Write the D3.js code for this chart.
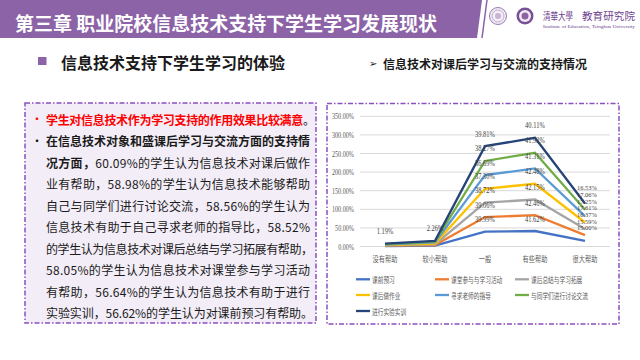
<!DOCTYPE html>
<html><head><meta charset="utf-8">
<script src="https://cdn.jsdelivr.net/npm/d3@7"></script>
<style>html,body{margin:0;padding:0;background:#fff;}svg{display:block;}</style>
</head><body>
<svg id="c" width="640" height="360"></svg>
<script>
// ---- data ----
const categories = ["没有帮助","较小帮助","一般","有些帮助","很大帮助"];
const seriesNames = ["课前预习","课堂参与与学习活动","课后总结与学习拓展","课后做作业","寻求老师的指导","与同学们进行讨论交流","进行实验实训"];
const v课前预习 = [1.20, 2.19, 39.99, 41.62, 15.00];
const v课堂参与 = [1.00, 1.89, 39.06, 42.46, 15.59];
const v课后总结 = [0.90, 1.86, 38.72, 42.15, 16.37];
const v课后做作业 = [0.80, 1.81, 37.30, 42.48, 17.61];
const v寻求老师 = [1.50, 3.25, 36.69, 41.31, 17.25];
const v讨论交流 = [0.90, 1.85, 38.27, 41.92, 17.06];
const v实验实训 = [1.19, 2.26, 39.81, 40.11, 16.53];
const seriesValues = [v课前预习, v课堂参与, v课后总结, v课后做作业, v寻求老师, v讨论交流, v实验实训];
const seriesColors = ["#4472C4","#ED7D31","#A5A5A5","#FFC000","#5B9BD5","#70AD47","#264478"];
const yTicks = [0,50,100,150,200,250,300,350];
const titleText = "第三章  职业院校信息技术支持下学生学习发展现状";
const sectionText = "信息技术支持下学生学习的体验";
const chartHeading = "信息技术对课后学习与交流的支持情况";
const bodyLines = [
  [{t:"学生对信息技术作为学习支持的作用效果比较满意",b:true,red:true},{t:"。"}],
  [{t:"在信息技术对象和盛课后学习与交流方面的支持情",b:true}],
  [{t:"况方面，",b:true},{t:"60.09%的学生认为信息技术对课后做作"}],
  [{t:"业有帮助，58.98%的学生认为信息技术能够帮助"}],
  [{t:"自己与同学们进行讨论交流，58.56%的学生认为"}],
  [{t:"信息技术有助于自己寻求老师的指导比，58.52%"}],
  [{t:"的学生认为信息技术对课后总结与学习拓展有帮助，"}],
  [{t:"58.05%的学生认为信息技术对课堂参与学习活动"}],
  [{t:"有帮助，56.64%的学生认为信息技术有助于进行"}],
  [{t:"实验实训，56.62%的学生认为对课前预习有帮助。"}]
];

const svg = d3.select("#c");
const purple = "#8c63a6";
const cjk = "'Noto Sans CJK SC', sans-serif";
const numFont = "'Liberation Serif', serif";

// ---- header ----
svg.append("polygon").attr("points","0,0 482,0 477,38 0,38").attr("fill",purple);
svg.append("line").attr("x1",487).attr("y1",0).attr("x2",482).attr("y2",38).attr("stroke",purple).attr("stroke-width",1.5);
svg.append("text").attr("x",15).attr("y",22.5).attr("dominant-baseline","central")
  .attr("font-family",cjk).attr("font-weight","bold").attr("font-size",19).attr("fill","#fff")
  .attr("textLength",422).attr("lengthAdjust","spacingAndGlyphs").text(titleText);
// logos
const lg = svg.append("g");
lg.append("circle").attr("cx",498).attr("cy",16).attr("r",8.5).attr("fill","#f4eef7").attr("stroke","#9a7ab0").attr("stroke-width",1);
lg.append("circle").attr("cx",498).attr("cy",16).attr("r",6).attr("fill","none").attr("stroke","#b59ac6").attr("stroke-width",0.8);
lg.append("circle").attr("cx",498).attr("cy",16).attr("r",3).attr("fill","#c9b4d6");
lg.append("circle").attr("cx",525).attr("cy",16).attr("r",8.5).attr("fill","#7a4f96");
lg.append("circle").attr("cx",525).attr("cy",16).attr("r",6).attr("fill","#f1eaf5");
lg.append("circle").attr("cx",525).attr("cy",16).attr("r",3.5).attr("fill","#8c63a6");
lg.append("text").attr("x",543).attr("y",15).attr("dominant-baseline","central")
  .attr("font-family","'Noto Sans CJK TC', sans-serif").attr("font-size",10).attr("fill","#6f3f8f")
  .attr("textLength",30).attr("lengthAdjust","spacingAndGlyphs").text("清華大學");
lg.append("text").attr("x",582).attr("y",15).attr("dominant-baseline","central")
  .attr("font-family",cjk).attr("font-size",10).attr("fill","#6f3f8f")
  .attr("textLength",53).attr("lengthAdjust","spacingAndGlyphs").text("教育研究院");
lg.append("text").attr("x",543).attr("y",26).attr("dominant-baseline","central")
  .attr("font-family",numFont).attr("font-size",4).attr("fill","#6f3f8f")
  .attr("textLength",92).attr("lengthAdjust","spacingAndGlyphs").text("Institute of Education, Tsinghua University");

// ---- section heading ----
svg.append("rect").attr("x",38).attr("y",57).attr("width",8.5).attr("height",8).attr("fill",purple);
svg.append("text").attr("x",61).attr("y",62).attr("dominant-baseline","central")
  .attr("font-family",cjk).attr("font-weight","bold").attr("font-size",16).attr("fill","#1a1a1a")
  .attr("textLength",224).attr("lengthAdjust","spacingAndGlyphs").text(sectionText);

// ---- left text box ----
const dash = "5,2,1.5,2";
svg.append("rect").attr("x",25).attr("y",103).attr("width",291).attr("height",220)
  .attr("fill","#f2edf7").attr("stroke","#8a4fc0").attr("stroke-width",1.5).attr("stroke-dasharray",dash);
bodyLines.forEach((line,i)=>{
  const y = 118.5 + i*21.55;
  if(i<2){
    svg.append("text").attr("x",31).attr("y",y).attr("dominant-baseline","central")
      .attr("font-family",cjk).attr("font-size",12).attr("fill", i===0?"#ff0000":"#111").text("•");
  }
  const t = svg.append("text").attr("x",46).attr("y",y).attr("dominant-baseline","central")
    .attr("font-family",cjk).attr("font-size",12).attr("fill","#1a1a1a");
  line.forEach(s=>{
    t.append("tspan").attr("font-weight",s.b?"bold":"normal").attr("fill",s.red?"#ff0000":"#1a1a1a").text(s.t);
  });
  const len = (i===0)?269:(i===6||i===9?267:264);
  t.attr("textLength",len).attr("lengthAdjust","spacing");
});

// ---- chart box ----
svg.append("text").attr("x",369).attr("y",63.3).attr("dominant-baseline","central")
  .attr("font-family","'DejaVu Sans', sans-serif").attr("font-size",10).attr("fill","#1a1a1a").text("➢");
svg.append("text").attr("x",383).attr("y",63.3).attr("dominant-baseline","central")
  .attr("font-family",cjk).attr("font-weight","bold").attr("font-size",12).attr("fill","#1a1a1a")
  .attr("textLength",204).attr("lengthAdjust","spacingAndGlyphs").text(chartHeading);
svg.append("rect").attr("x",327).attr("y",103.5).attr("width",292).attr("height",220.5)
  .attr("fill","#fff").attr("stroke","#8a4fc0").attr("stroke-width",1.5).attr("stroke-dasharray",dash);

const x = d3.scalePoint().domain(categories).range([360,610]).padding(0.5);
const y = d3.scaleLinear().domain([0,350]).range([246.5,116.3]);

const rows = categories.map((c,ci)=>{const r={cat:c}; seriesNames.forEach((s,si)=>r[s]=seriesValues[si][ci]); return r;});
const stacked = d3.stack().keys(seriesNames)(rows);

// grid + y labels
const fmt = d=>d3.format(".2f")(d)+"%";
svg.append("g").selectAll("line").data(yTicks).join("line")
  .attr("x1",360).attr("x2",610).attr("y1",d=>y(d)).attr("y2",d=>y(d))
  .attr("stroke","#d9d9d9").attr("stroke-width",1);
svg.append("g").selectAll("text").data(yTicks).join("text")
  .attr("x",354).attr("y",d=>y(d)).attr("text-anchor","end").attr("dominant-baseline","central")
  .attr("font-family",numFont).attr("font-size",9).attr("fill","#595959")
  .attr("textLength",d=>fmt(d).length*3.15).attr("lengthAdjust","spacingAndGlyphs").text(fmt);
// x labels
svg.append("g").selectAll("text").data(categories).join("text")
  .attr("x",d=>x(d)).attr("y",258.3).attr("text-anchor","middle").attr("dominant-baseline","central")
  .attr("font-family",cjk).attr("font-size",8).attr("fill","#595959")
  .attr("textLength",d=>d.length*6.2).attr("lengthAdjust","spacingAndGlyphs").text(d=>d);

// lines
const lineGen = d3.line().x((d,i)=>x(categories[i])).y(d=>y(d[1]));
svg.append("g").selectAll("path").data(stacked).join("path")
  .attr("d",d=>lineGen(d)).attr("fill","none")
  .attr("stroke",(d,i)=>seriesColors[i]).attr("stroke-width",2.3).attr("stroke-linejoin","miter");

// data labels
const labG = svg.append("g");
// label positions per category, spread apart where crowded (last category)
categories.forEach((c,ci)=>{
  const items = [];
  stacked.forEach((s,si)=>{
    if(ci<2 && si!==seriesNames.length-1) return;
    items.push({si, val: seriesValues[si][ci], ly: y(s[ci][1]) - 12.5});
  });
  const crowded = ci===4;
  const minGap = crowded ? 6.7 : 0;
  // items ordered bottom (si=0) to top; push upward ones up when too close
  for(let k=1;k<items.length;k++){
    if(items[k-1].ly - items[k].ly < minGap) items[k].ly = items[k-1].ly - minGap;
  }
  items.forEach(it=>{
    const txt = d3.format(".2f")(it.val)+"%";
    labG.append("text").attr("x",x(c)+(crowded?2:0)).attr("y",it.ly)
      .attr("text-anchor","middle").attr("dominant-baseline","central")
      .attr("font-family",numFont).attr("font-size",crowded?6:9).attr("fill","#404040")
      .attr("textLength",txt.length*3.3).attr("lengthAdjust","spacingAndGlyphs").text(txt);
  });
});

// legend
const legPos = [[356,279.3],[435,279.3],[515,279.3],[356,295],[435,295],[515,295],[356,311]];
const leg = svg.append("g").selectAll("g").data(seriesNames).join("g")
  .attr("transform",(d,i)=>`translate(${legPos[i][0]},${legPos[i][1]})`);
leg.append("line").attr("x1",0).attr("x2",14).attr("y1",0).attr("y2",0)
  .attr("stroke",(d,i)=>seriesColors[i]).attr("stroke-width",2.3);
leg.append("text").attr("x",16).attr("y",0).attr("dominant-baseline","central")
  .attr("font-family",cjk).attr("font-size",8).attr("fill","#595959")
  .attr("textLength",d=>d.length*5.7).attr("lengthAdjust","spacingAndGlyphs").text(d=>d);
</script>
</body></html>
